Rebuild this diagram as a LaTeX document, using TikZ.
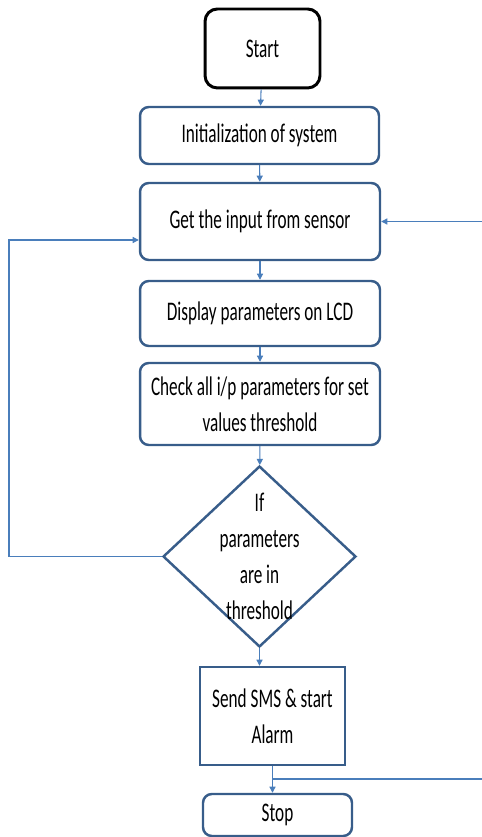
\documentclass[tikz,border=0pt]{standalone}
\usepackage{fontspec}
\setmainfont[FakeStretch=0.64]{Carlito}
\usetikzlibrary{shapes.geometric,arrows.meta}
\definecolor{boxblue}{HTML}{385D8A}
\definecolor{lineblue}{HTML}{4A7EBB}

\begin{document}
\begin{tikzpicture}
  [x=0.02cm,y=-0.02cm,
   every node/.style={align=center,inner sep=0pt,font=\fontsize{15.3}{20.5}\selectfont},
   startbox/.style={draw=black,line width=1.7pt,rounded corners=7pt},
   procbox/.style={draw=boxblue,line width=1.4pt,rounded corners=5pt},
   alarmbox/.style={draw=boxblue,line width=1.4pt},
   decbox/.style={diamond,draw=boxblue,line width=1.4pt},
   arr/.style={draw=lineblue,line width=0.6pt,-{Triangle[length=3.5pt,width=3.5pt]}}]
  \useasboundingbox (0,0) rectangle (481,837);

  \node[startbox,minimum width=2.3cm,minimum height=1.58cm] (start) at (262.5,48.5) {Start};
  \node[procbox,minimum width=4.78cm,minimum height=1.14cm] (init) at (259.5,135.5) {Initialization of system};
  \node[procbox,minimum width=4.8cm,minimum height=1.54cm] (input) at (260,221.5) {Get the input from sensor};
  \node[procbox,minimum width=4.8cm,minimum height=1.3cm] (disp) at (260,313.5) {Display parameters on LCD};
  \node[procbox,minimum width=4.8cm,minimum height=1.64cm] (check) at (260,404) {Check all i/p parameters for set\\values threshold};
  \node[decbox,minimum width=3.86cm,minimum height=3.62cm,
        label={center:{If\\parameters\\are in\\threshold}}] (dec) at (259.5,556.5) {};
  \node[alarmbox,minimum width=2.9cm,minimum height=1.96cm] (sms) at (272.5,716) {Send SMS \& start\\Alarm};
  \node[procbox,minimum width=2.98cm,minimum height=0.84cm] (stop) at (277.5,815) {Stop};

  \foreach \from/\to in {start/init,init/input,input/disp,disp/check,check/dec}
    \draw[arr] (\from) -- (\to);
  \draw[arr] (dec.south) -- (dec.south |- sms.north);
  \draw[arr] (sms.south) -- (sms.south |- stop.north);

  % loop back on the left
  \coordinate (lcorner) at (9,240);
  \draw[arr] (dec.west) -| (lcorner) -- (lcorner -| input.west);
  % loop back on the right
  \coordinate (rj) at (sms.south |- 0,779);
  \coordinate (rcorner) at (484,221.5);
  \draw[arr] (rj) -| (rcorner) -- (input.east);

\end{tikzpicture}
\end{document}
